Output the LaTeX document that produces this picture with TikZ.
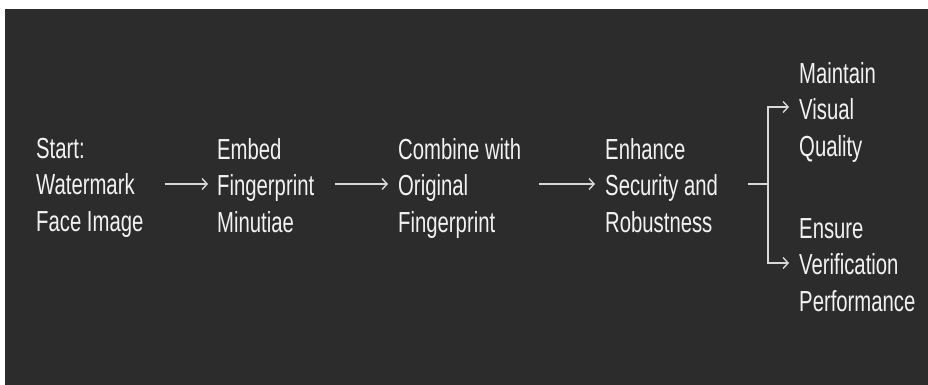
\documentclass[tikz,border=0pt]{standalone}
\usepackage{fontspec}
\setmainfont[FakeStretch=0.70]{Liberation Sans}
\usetikzlibrary{arrows.meta}
\definecolor{bg}{HTML}{2C2C2C}
\definecolor{txt}{HTML}{F2F2F2}
\definecolor{ln}{HTML}{D8D8D8}
\tikzset{
  lbl/.style={anchor=north west, inner sep=0pt, align=left, text=txt,
    font=\fontsize{29}{36.5}\selectfont},
  conn/.style={draw=ln, line width=1.4pt},
  arr/.style={conn, -{Straight Barb[length=5pt,width=11pt,line width=1.4pt]}}
}
\begin{document}
\begin{tikzpicture}[x=1pt,y=1pt]
\useasboundingbox (0,0) rectangle (928,-385);
\fill[white] (0,0) rectangle (928,-385);
\fill[bg] (5,-9) rectangle (928,-385);
\node[lbl] (n1) at (36,-138) {Start:\\Watermark\\Face Image};
\node[lbl] (n2) at (217,-138) {Embed\\Fingerprint\\Minutiae};
\node[lbl] (n3) at (398,-138) {Combine with\\Original\\Fingerprint};
\node[lbl] (n4) at (605,-138) {Enhance\\Security and\\Robustness};
\node[lbl] (n5) at (799,-62) {Maintain\\Visual\\Quality};
\node[lbl] (n6) at (799,-218) {Ensure\\Verification\\Performance};
\coordinate (m) at (0,-184);
\coordinate (j) at (768,-184);
\coordinate (t5) at (0,-107);
\coordinate (t6) at (0,-263);
\draw[arr, shorten <=21pt, shorten >=9pt] (n1.east |- m) -- (n2.west |- m);
\draw[arr, shorten <=21pt, shorten >=10pt] (n2.east |- m) -- (n3.west |- m);
\draw[arr, shorten <=18pt, shorten >=10pt] (n3.east |- m) -- (n4.west |- m);
\draw[conn, shorten <=30pt] (n4.east |- m) -- (j);
\draw[arr, shorten >=10pt] (j) -- (j |- t5) -- (n5.west |- t5);
\draw[arr, shorten >=10pt] (j) -- (j |- t6) -- (n6.west |- t6);
\end{tikzpicture}
\end{document}
